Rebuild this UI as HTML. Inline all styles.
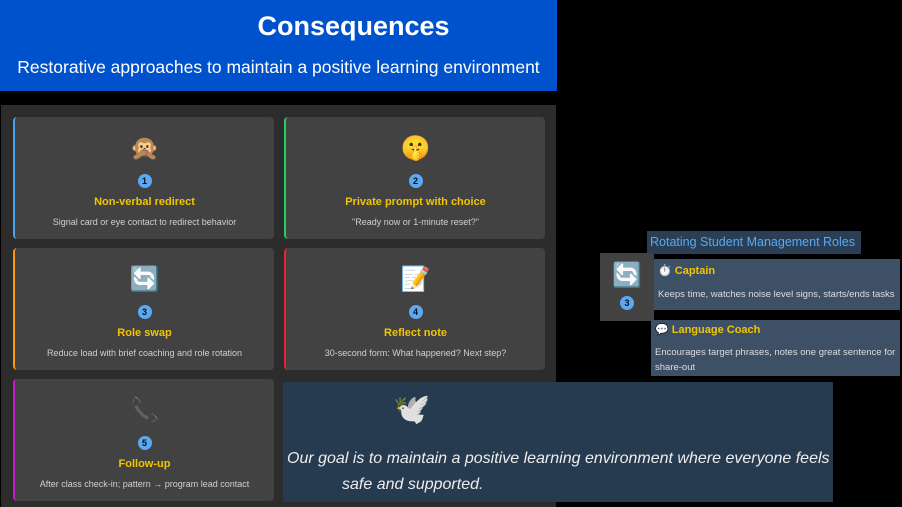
<!DOCTYPE html>
<html><head><meta charset="utf-8"><style>
*{margin:0;padding:0;box-sizing:border-box}
body{width:902px;height:507px;background:#000;position:relative;overflow:hidden;font-family:"Liberation Sans",sans-serif}
.hdr{position:absolute;left:0;top:0;width:557px;height:91px;background:#0052cc;color:#fff;text-align:center}
.hdr h1{font-size:27px;font-weight:bold;margin-top:10px;line-height:32px;padding-left:150px}
.hdr p{font-size:17.5px;margin-top:15px;white-space:nowrap}
.panel{position:absolute;left:1px;top:105px;width:555px;height:402px;background:#2c2c2c}
.card{position:absolute;width:261px;height:122px;background:#424242;border-radius:4px;text-align:center;border-left:2px solid}
.ic{font-size:24px;margin-top:17px;height:30px;line-height:30px}
.num{width:14px;height:14px;border-radius:50%;background:#5aa9f2;color:#111;font-size:9px;font-weight:bold;line-height:14px;margin:10px auto 0}
.t{color:#f2c500;font-weight:bold;font-size:11px;margin-top:8px}
.d{color:#d0d0d0;font-size:9px;margin-top:9px}
.abs{position:absolute}
</style></head><body>
<div class="hdr"><h1>Consequences</h1><p>Restorative approaches to maintain a positive learning environment</p></div>
<div class="panel"></div>
<div class="card" style="left:13px;top:117px;border-color:#4aa3f0"><div class="ic">🙊</div><div class="num">1</div><div class="t">Non-verbal redirect</div><div class="d">Signal card or eye contact to redirect behavior</div></div>
<div class="card" style="left:284px;top:117px;border-color:#1fd35a"><div class="ic">🤫</div><div class="num">2</div><div class="t">Private prompt with choice</div><div class="d">"Ready now or 1-minute reset?"</div></div>
<div class="card" style="left:13px;top:248px;border-color:#f59a0c"><div class="ic">🔄</div><div class="num">3</div><div class="t">Role swap</div><div class="d">Reduce load with brief coaching and role rotation</div></div>
<div class="card" style="left:284px;top:248px;border-color:#e8203a"><div class="ic">📝</div><div class="num">4</div><div class="t">Reflect note</div><div class="d">30-second form: What happened? Next step?</div></div>
<div class="card" style="left:13px;top:379px;border-color:#c21ccf"><div class="ic" style="color:#666">📞</div><div class="num">5</div><div class="t">Follow-up</div><div class="d">After class check-in; pattern → program lead contact</div></div>
<div class="abs" style="left:283px;top:382px;width:550px;height:120px;background:#263a50">
 <div class="abs" style="left:110px;top:10px;font-size:30px">🕊️</div>
 <div class="abs" style="left:4px;top:64px;width:546px;color:#eee;font-style:italic;font-size:16px;line-height:26px;white-space:nowrap">Our goal is to maintain a positive learning environment where everyone feels<br><span style="padding-left:55px">safe and supported.</span></div>
</div>
<div class="abs" style="left:647px;top:231px;width:214px;height:23px;background:#2a3f55;color:#5aa9f2;font-size:12.5px;line-height:22px;padding-left:3px;white-space:nowrap">Rotating Student Management Roles</div>
<div class="abs" style="left:600px;top:253px;width:54px;height:68px;background:#424242;text-align:center"><div style="font-size:24px;margin-top:8px">🔄</div><div class="num" style="margin-top:6px">3</div></div>
<div class="abs" style="left:654px;top:259px;width:246px;height:51px;background:#3d5066"><div style="color:#f2c500;font-weight:bold;font-size:11px;margin:5px 0 0 4px">⏱️ Captain</div><div style="color:#ddd;font-size:9.5px;margin:12px 0 0 4px">Keeps time, watches noise level signs, starts/ends tasks</div></div>
<div class="abs" style="left:651px;top:320px;width:249px;height:56px;background:#3d5066"><div style="color:#f2c500;font-weight:bold;font-size:11px;margin:3px 0 0 4px">💬 Language Coach</div><div style="color:#ddd;font-size:9.5px;margin:9px 0 0 4px;line-height:15px">Encourages target phrases, notes one great sentence for share-out</div></div>
</body></html>
